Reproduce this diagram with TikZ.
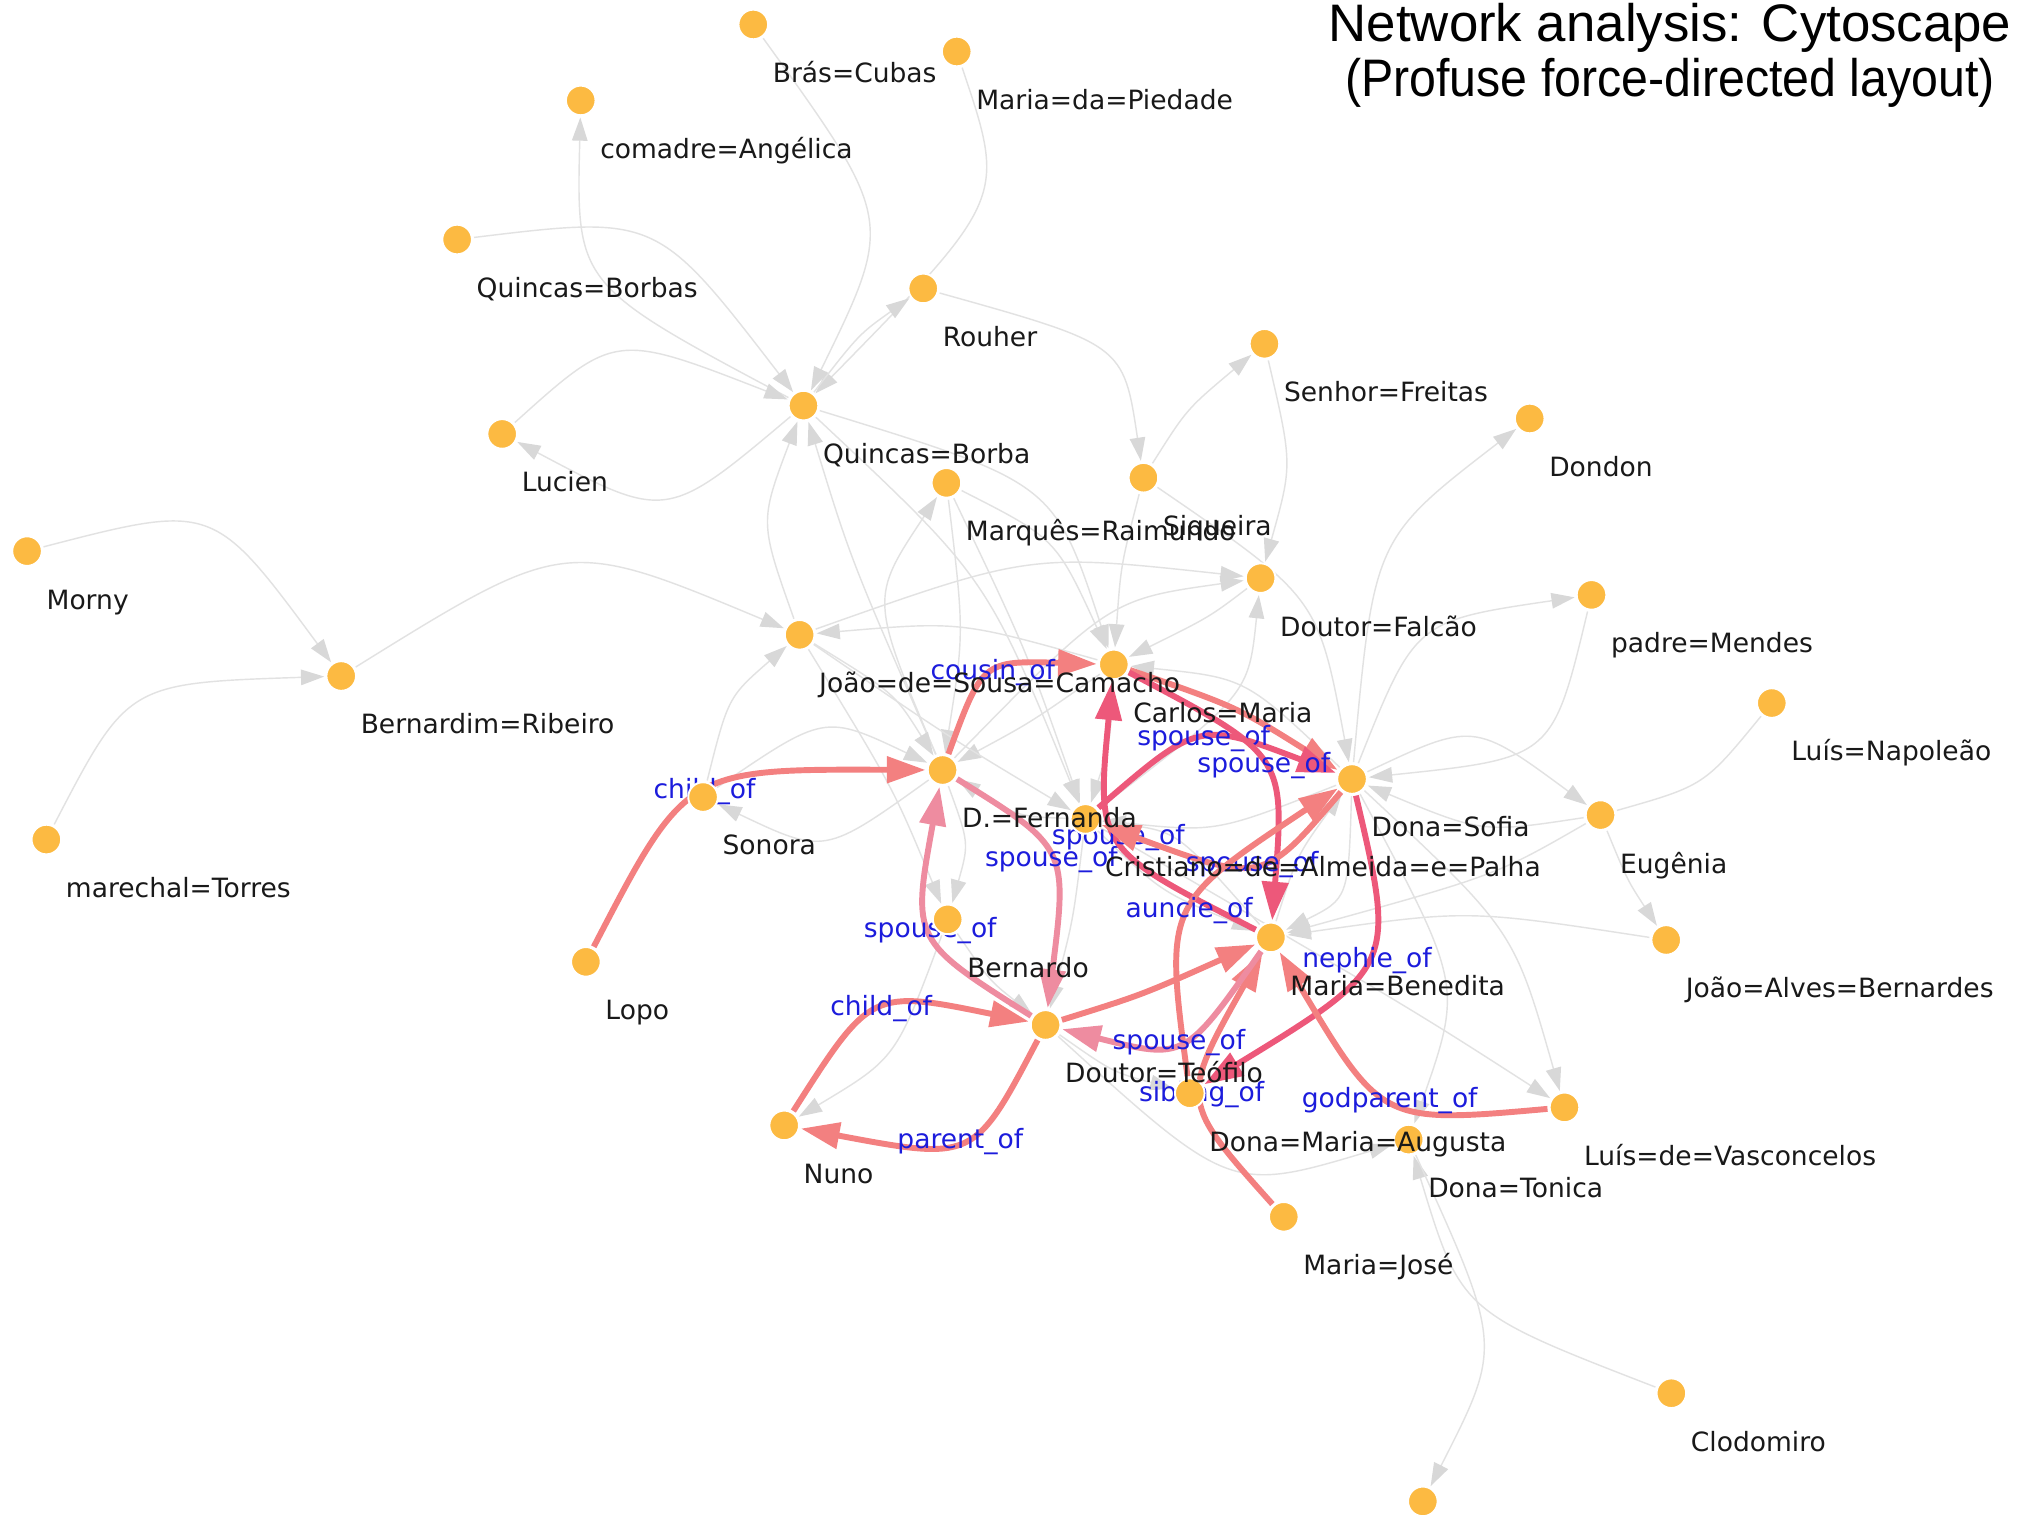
\documentclass[tikz,border=0pt]{standalone}
\usepackage{fontspec}
\usepackage{graphicx}
\setmainfont{DejaVu Sans}
\newfontfamily\titlefont{Liberation Sans}
\usetikzlibrary{arrows.meta,calc}

\pgfdeclarelayer{paper}
\pgfdeclarelayer{edges}
\pgfdeclarelayer{top}
\pgfsetlayers{paper,edges,main,top}

\definecolor{nodefill}{RGB}{252,186,66}
\definecolor{edgegrey}{RGB}{226,226,226}
\definecolor{tipgrey}{RGB}{216,216,216}
\definecolor{relSalmon}{RGB}{243,128,128}
\definecolor{relRose}{RGB}{238,140,160}
\definecolor{relCrimson}{RGB}{237,88,122}
\definecolor{relText}{RGB}{28,28,220}
\definecolor{ink}{RGB}{25,25,25}

\tikzset{
  person/.style={circle, fill=nodefill, draw=white, line width=1.5pt,
    minimum size=23pt, inner sep=0pt},
  pname/.style={anchor=base west, inner sep=0pt, text=ink,
    font=\fontsize{20.6}{24}\selectfont},
  rlabel/.style={text=relText, inner sep=0pt, font=\fontsize{20.6}{24}\selectfont},
  gline/.style={draw=edgegrey, line width=1.1pt,
    -{Triangle[length=18pt,width=12pt,color=tipgrey]},
    shorten >=1pt, shorten <=1pt},
  rline/.style={line width=4.6pt, -{Triangle[length=30pt,width=20pt]},
    shorten >=1pt, shorten <=1pt},
}

% a character: dot plus its name below right
\newcommand\person[4]{%
  \node[person] (#1) at (#2,#3) {};
  \begin{pgfonlayer}{top}
    \node[pname] (#1-name) at (#2+15,#3+45) {#4};
  \end{pgfonlayer}}

% grey link through a mid point #4
\newcommand\gedge[4][]{%
  \draw[gline,#1] (#2) .. controls ($1.33333*(#4)-0.16667*(#2)-0.16667*(#3)$) .. (#3);}

% relation link with its label at the middle
\newcommand\redge[5][relSalmon]{%
  \draw[rline,draw=#1] (#2) .. controls ($1.33333*(#4)-0.16667*(#2)-0.16667*(#3)$) .. (#3)
    node[rlabel,pos=0.5] (#2-#3) {#5};}
\newcommand\redgenl[4][relSalmon]{%
  \draw[rline,draw=#1] (#2) .. controls ($1.33333*(#4)-0.16667*(#2)-0.16667*(#3)$) .. (#3);}

\begin{document}
\begin{tikzpicture}[x=1pt,y=-1pt]
\useasboundingbox (0,0) rectangle (1568,1183);
\begin{pgfonlayer}{paper}
  \fill[white] (0,0) rectangle (1568,1183);
\end{pgfonlayer}

% title
\node[anchor=base, inner sep=0pt, font=\titlefont\fontsize{41}{48}\selectfont] (title1)
  at (1297,32) {Network analysis: Cytoscape};
\node[anchor=base, inner sep=0pt, font=\titlefont\fontsize{41}{48}\selectfont] (title2)
  at (1297,75) {\scalebox{0.915}[1]{(Profuse force-directed layout)}};

% characters
\person{BC}{585}{19}{Brás=Cubas}
\person{MP}{743}{40}{Maria=da=Piedade}
\person{CA}{451}{78}{comadre=Angélica}
\person{QBs}{355}{186}{Quincas=Borbas}
\person{RO}{717}{224}{Rouher}
\person{QB}{624}{315}{Quincas=Borba}
\person{LU}{390}{337}{Lucien}
\person{MR}{735}{375}{Marquês=Raimundo}
\person{SI}{888}{371}{Siqueira}
\person{SF}{982}{267}{Senhor=Freitas}
\person{DD}{1188}{325}{Dondon}
\person{DF}{979}{449}{Doutor=Falcão}
\person{PM}{1236}{462}{padre=Mendes}
\person{LN}{1376}{546}{Luís=Napoleão}
\person{MO}{21}{428}{Morny}
\person{BR}{265}{525}{Bernardim=Ribeiro}
\person{MT}{36}{652}{marechal=Torres}
\person{JC}{621}{493}{João=de=Sousa=Camacho}
\person{CM}{865}{516}{Carlos=Maria}
\person{DFe}{732}{598}{D.=Fernanda}
\person{CP}{843}{636}{Cristiano=de=Almeida=e=Palha}
\person{DS}{1050}{605}{Dona=Sofia}
\person{SO}{546}{619}{Sonora}
\person{BE}{736}{714}{Bernardo}
\person{MB}{987}{728}{Maria=Benedita}
\person{DT}{812}{796}{Doutor=Teófilo}
\person{DMA}{924}{849}{Dona=Maria=Augusta}
\person{DTo}{1094}{885}{Dona=Tonica}
\person{NU}{609}{874}{Nuno}
\person{LO}{455}{747}{Lopo}
\person{MJ}{997}{945}{Maria=José}
\person{LV}{1215}{860}{Luís=de=Vasconcelos}
\person{EU}{1243}{633}{Eugênia}
\person{JA}{1294}{730}{João=Alves=Bernardes}
\person{CL}{1298}{1082}{Clodomiro}
\node[person] (X) at (1105,1166) {};

\begin{pgfonlayer}{edges}
% ---- plain links
\gedge{BC}{QB}{672,170}
\gedge{MP}{QB}{757,160}
\gedge{QB}{RO}{668,262}
\gedge{RO}{SI}{855,275}
\gedge{QBs}{QB}{505,188}
\gedge{QB}{CA}{470,215}
\gedge{LU}{QB}{485,275}
\gedge{QB}{LU}{515,385}
\gedge{MO}{BR}{160,412}
\gedge{MT}{BR}{112,545}
\gedge{BR}{JC}{440,440}
\gedge{JC}{QB}{598,405}
\gedge{DFe}{QB}{665,440}
\gedge{QB}{CM}{800,385}
\gedge{QB}{CP}{758,455}
\gedge{DFe}{MR}{690,470}
\gedge{MR}{CM}{815,425}
\gedge{SI}{SF}{925,318}
\gedge{SF}{DF}{998,360}
\gedge{SI}{CM}{872,440}
\gedge{SI}{DS}{1010,470}
\gedge{JC}{DF}{800,440}
\gedge{CP}{DF}{955,540}
\gedge{DF}{CM}{935,480}
\gedge{DS}{PM}{1110,495}
\gedge{PM}{DS}{1190,575}
\gedge{DS}{DD}{1080,430}
\gedge[-]{LN}{EU}{1320,605}
\gedge{EU}{JA}{1265,683}
\gedge{JA}{MB}{1140,712}
\gedge{EU}{MB}{1150,680}
\gedge{DS}{EU}{1145,575}
\gedge{EU}{DS}{1150,640}
\gedge{DS}{LV}{1165,725}
\gedge{DS}{DTo}{1120,760}
\gedge{CL}{DTo}{1150,1010}
\gedge{DTo}{X}{1150,1040}
\gedge{DT}{DTo}{955,905}
\gedge{SO}{DFe}{640,568}
\gedge{DFe}{SO}{640,650}
\gedge{CM}{JC}{745,488}
\gedge{JC}{DFe}{690,540}
\gedge{CM}{DFe}{800,560}
\gedge{CP}{DFe}{790,630}
\gedge{DFe}{BE}{748,655}
\gedge{CM}{CP}{860,578}
\gedge{DS}{CP}{945,640}
\gedge{DS}{CM}{965,535}
\gedge{MB}{DS}{1010,665}
\gedge{DS}{MB}{1040,690}
\gedge{CP}{MB}{905,690}
\gedge{CP}{DT}{832,715}
\gedge{BE}{DT}{770,760}
\gedge{BE}{NU}{690,815}
\gedge{JC}{BE}{690,610}
\gedge{MR}{DFe}{745,490}
\gedge{MR}{CP}{795,505}
\gedge{JC}{CP}{735,570}
\gedge{DT}{DMA}{865,830}
\gedge{DFe}{DF}{860,480}
\gedge{CP}{LV}{1080,775}
\gedge{MB}{CP}{915,655}
\gedge{SO}{JC}{570,545}

% ---- family relations
\redgenl{CM}{DS}{960,552}
\redgenl{DT}{MB}{890,770}
\redge{DFe}{CM}{772,524}{cousin\_of}
\redge{LO}{DFe}{548,616}{child\_of}
\redge[relRose]{DT}{DFe}{724,722}{spouse\_of}
\redge[relRose]{DFe}{DT}{815,668}{spouse\_of}
\redge{NU}{DT}{685,785}{child\_of}
\redge{DT}{NU}{745,885}{parent\_of}
\redge[relCrimson]{CP}{DS}{935,575}{spouse\_of}
\redge[relCrimson]{CM}{MB}{980,595}{spouse\_of}
\redge[relCrimson]{MB}{CM}{870,650}{spouse\_of}
\redge{DS}{CP}{972,670}{spouse\_of}
\redge{DMA}{DS}{925,708}{auncie\_of}
\redge[relCrimson]{DS}{DMA}{1060,745}{nephie\_of}
\redge{MJ}{MB}{935,850}{sibling\_of}
\redge{LV}{MB}{1080,853}{godparent\_of}
\redge[relRose]{MB}{DT}{915,808}{spouse\_of}
\end{pgfonlayer}
\end{tikzpicture}
\end{document}
